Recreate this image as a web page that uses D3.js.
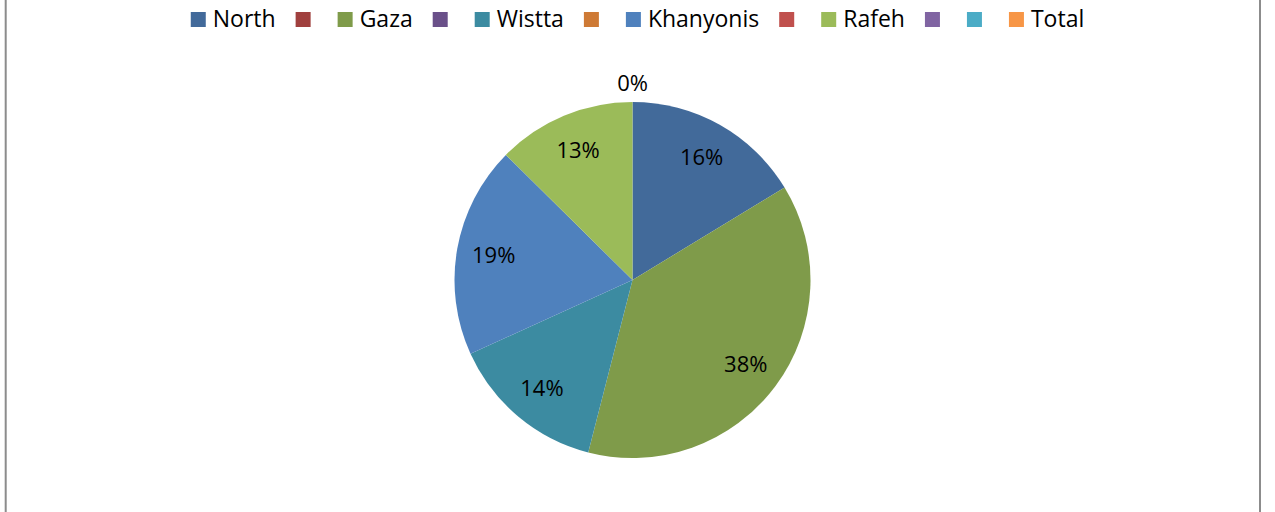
<!DOCTYPE html>
<html>
<head>
<meta charset="utf-8">
<script src="https://cdn.jsdelivr.net/npm/d3@7"></script>
<style>
  body { margin: 0; background: #fff; }
  svg text { font-family: "Open Sans", sans-serif; fill: #000; }
</style>
</head>
<body>
<div id="chart"></div>
<script>
const width = 1275;
const height = 512;

// series as they appear in the legend; null = blank cell
const names = ["North", "", "Gaza", "", "Wistta", "", "Khanyonis", "", "Rafeh", "", "", "Total"];
const values = [16.3, null, 37.7, null, 14.2, null, 19.2, null, 12.6, null, null, 0];
const colors = ["#426A9A", "#A0403E", "#7F9B4A", "#6A5089", "#3C8BA1", "#CE7A35",
                "#4F81BD", "#C0504D", "#9BBB59", "#8064A2", "#4BACC6", "#F79646"];

const cx = 632.5, cy = 280, radius = 178;

let data = names.map((n, i) => ({ name: n, value: values[i], color: colors[i] }));
let total = d3.sum(values);

let svg = d3.select("#chart").append("svg")
    .attr("width", width)
    .attr("height", height);

// chart border (top and bottom fall outside the view)
svg.append("rect")
    .attr("x", 5.7)
    .attr("y", -10)
    .attr("width", 1254.3)
    .attr("height", height + 20)
    .attr("fill", "none")
    .attr("stroke", "#8c8c8c")
    .attr("stroke-width", 2);

let pie = d3.pie()
    .sort(null)
    .value(d => d.value || 0);

let arc = d3.arc().innerRadius(0).outerRadius(radius);
let labelArc = d3.arc().innerRadius(141).outerRadius(141);
let outerArc = d3.arc().innerRadius(radius + 19).outerRadius(radius + 19);

let g = svg.append("g").attr("transform", `translate(${cx},${cy})`);

let arcs = pie(data);

g.selectAll("path")
    .data(arcs)
    .enter()
    .append("path")
    .attr("d", arc)
    .attr("fill", d => d.data.color);

// percentage labels, only for cells that hold a value
g.selectAll("text.pct")
    .data(arcs.filter(d => d.data.value !== null))
    .enter()
    .append("text")
    .attr("class", "pct")
    .attr("transform", d => `translate(${(d.data.value > 0 ? labelArc : outerArc).centroid(d)})`)
    .attr("text-anchor", "middle")
    .attr("dy", "0.36em")
    .style("font-size", "22px")
    .text(d => Math.round(d.data.value / total * 100) + "%");

// legend
let legend = svg.append("g").attr("class", "legend");
let items = legend.selectAll("g")
    .data(data)
    .enter()
    .append("g");

items.append("rect")
    .attr("width", 15)
    .attr("height", 15)
    .attr("y", 12)
    .attr("fill", d => d.color);

items.append("text")
    .attr("x", 22)
    .attr("y", 27)
    .style("font-size", "23px")
    .text(d => d.name);

let xPos = 0;
items.each(function(d) {
    let w = this.querySelector("text").getComputedTextLength();
    d3.select(this).attr("transform", `translate(${xPos},0)`);
    xPos += 15 + 7 + w + 20;
});
let legendWidth = xPos - 20;
legend.attr("transform", `translate(${637.5 - legendWidth / 2},0)`);
</script>
</body>
</html>
